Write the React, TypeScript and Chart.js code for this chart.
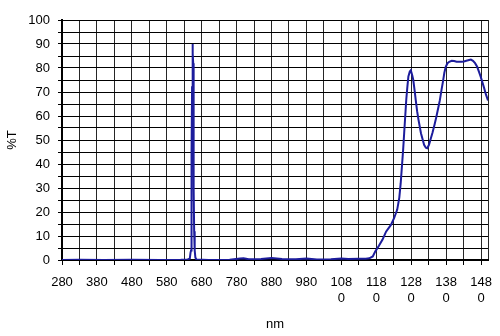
import React, { useEffect, useRef } from 'react';
import { Chart, registerables } from 'chart.js';
Chart.register(...registerables);

// Wavelength (nm) and transmittance (%T)
const wavelengths = [
  280, 330, 400, 480, 560, 620, 640, 646, 648, 649.5, 650.5, 651.5, 652.5, 653.5, 654.3, 655, 655.8, 656.5,
  657.5, 658.5, 660, 662, 665, 700, 760, 790, 800, 815, 850, 880, 910, 950, 980, 1010, 1050, 1080, 1100,
  1130, 1150, 1160, 1170, 1177, 1188, 1198, 1208, 1222, 1231, 1240, 1246, 1250, 1254, 1257, 1260, 1263,
  1266, 1269, 1272, 1276, 1279, 1283, 1286, 1290, 1293, 1297, 1301, 1308, 1317, 1322, 1326, 1331, 1336,
  1341, 1347, 1352, 1357, 1362, 1367, 1371, 1375, 1379, 1384, 1389, 1396, 1403, 1410, 1417, 1424, 1431,
  1438, 1446, 1451, 1457, 1463, 1469, 1474, 1479, 1484, 1489, 1494, 1500,
];
const transmittance = [
  0, 0.1, 0, 0.1, 0, 0.1, 0.2, 0.6, 3, 4, 25, 45, 72, 88, 90, 86, 82, 60,
  30, 12, 4, 1, 0.2, 0, 0.1, 0.6, 0.7, 0.3, 0.4, 0.8, 0.4, 0.3, 0.6, 0.2, 0.3, 0.6, 0.4,
  0.5, 0.5, 0.7, 1.5, 3.5, 6, 8.5, 11.8, 14.6, 17.4, 21, 26, 32, 40, 46, 53, 60,
  67, 72, 76.5, 78.5, 79, 77, 75, 70.5, 66.7, 62, 58.4, 52.8, 48, 46.8, 46.6, 48, 50.5,
  53, 56.5, 59.6, 63, 66.5, 71, 74.3, 78, 80.5, 82, 82.6, 83, 82.9, 82.6, 82.6, 82.6, 82.7,
  83, 83.3, 83.5, 83, 82, 80.5, 78.5, 76.4, 74, 71.6, 69, 66.5,
];

const xGridValues = [
  280, 330, 380, 430, 480, 530, 580, 630, 680, 730, 780, 830, 880, 930, 980, 1030, 1080, 1130,
  1180, 1230, 1280, 1330, 1380, 1430, 1480, 1500,
];
const xLabelValues = [280, 380, 480, 580, 680, 780, 880, 980, 1080, 1180, 1280, 1380, 1480];
const xLabelText: string[][] = [
  ['280'], ['380'], ['480'], ['580'], ['680'], ['780'], ['880'], ['980'],
  ['108', '0'], ['118', '0'], ['128', '0'], ['138', '0'], ['148', '0'],
];
const yGridValues = [0, 5, 10, 15, 20, 25, 30, 35, 40, 45, 50, 55, 60, 65, 70, 75, 80, 85, 90, 95, 100];
const yLabelValues = [0, 10, 20, 30, 40, 50, 60, 70, 80, 90, 100];
const yLabelText = ['0', '10', '20', '30', '40', '50', '60', '70', '80', '90', '100'];

export default function App() {
  const ref = useRef<HTMLCanvasElement>(null);
  useEffect(() => {
    document.body.style.margin = '0';
    const canvas = ref.current!;
    const family = "'Liberation Sans', Arial, sans-serif";
    const chart = new Chart(canvas, {
      type: 'line',
      data: {
        datasets: [
          {
            data: wavelengths.map((x, i) => ({ x, y: transmittance[i] })),
            borderColor: '#1c1c9c',
            borderWidth: 2,
            pointRadius: 0,
            tension: 0,
            fill: false,
          },
        ],
      },
      options: {
        responsive: false,
        animation: false,
        devicePixelRatio: 1,
        layout: { padding: { left: 0, top: 20, right: 12, bottom: 0 } },
        plugins: { legend: { display: false }, tooltip: { enabled: false } },
        scales: {
          x: {
            type: 'linear',
            min: 280,
            max: 1500,
            afterBuildTicks: (s: any) => {
              s.ticks = xGridValues.map((v) => ({ value: v }));
            },
            afterFit: (s: any) => {
              s.height = 76;
            },
            ticks: {
              autoSkip: false,
              maxRotation: 0,
              minRotation: 0,
              padding: 9,
              color: '#000',
              font: { family, size: 13, lineHeight: 1.25 },
              callback: (v: any) => {
                const i = xLabelValues.indexOf(Number(v));
                return i >= 0 ? xLabelText[i] : '';
              },
            },
            grid: {
              color: '#262626',
              lineWidth: 1,
              drawTicks: true,
              tickLength: 5,
              tickColor: (c: any) => (c.tick && c.tick.value === 1500 ? 'rgba(0,0,0,0)' : '#000'),
            },
            border: { color: '#000', width: 2 },
            title: {
              display: true,
              text: 'nm',
              color: '#000',
              font: { family, size: 13 },
              padding: { top: 0, bottom: 4 },
            },
          },
          y: {
            type: 'linear',
            min: 0,
            max: 100,
            afterBuildTicks: (s: any) => {
              s.ticks = yGridValues.map((v) => ({ value: v }));
            },
            afterFit: (s: any) => {
              s.width = 62;
            },
            ticks: {
              autoSkip: false,
              padding: 8,
              color: '#000',
              font: { family, size: 13 },
              callback: (v: any) => {
                const i = yLabelValues.indexOf(Number(v));
                return i >= 0 ? yLabelText[i] : '';
              },
            },
            grid: {
              color: '#000',
              lineWidth: 1,
              drawTicks: true,
              tickLength: 4,
              tickColor: '#000',
            },
            border: { color: '#000', width: 2 },
            title: {
              display: true,
              text: '%T',
              color: '#000',
              font: { family, size: 13 },
              padding: { top: 5, bottom: 0 },
            },
          },
        },
      },
    });
    return () => chart.destroy();
  }, []);
  return (
    <div style={{ width: 500, height: 336, background: '#fff' }}>
      <canvas ref={ref} width={500} height={336} style={{ display: 'block' }} />
    </div>
  );
}
